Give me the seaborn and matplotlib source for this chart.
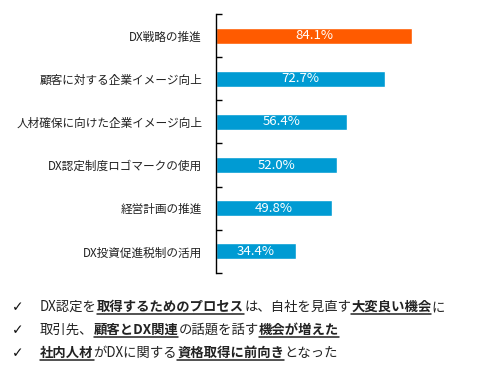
import matplotlib
matplotlib.use("Agg")
import matplotlib.pyplot as plt
import seaborn as sns
import pandas as pd
from matplotlib.lines import Line2D

sns.set_style("white")
plt.rcParams['font.family'] = ['Noto Sans CJK JP', 'DejaVu Sans']

# === データ ===
items = ["DX戦略の推進", "顧客に対する企業イメージ向上", "人材確保に向けた企業イメージ向上",
         "DX認定制度ロゴマークの使用", "経営計画の推進", "DX投資促進税制の活用"]
values = [84.1, 72.7, 56.4, 52.0, 49.8, 34.4]
bar_colors = ["#FF5B00", "#009BD3", "#009BD3", "#009BD3", "#009BD3", "#009BD3"]

# 下のコメント (テキスト, 太字+下線かどうか)
comments = [
    [("DX認定を", False), ("取得するためのプロセス", True), ("は、自社を見直す", False),
     ("大変良い機会", True), ("に", False)],
    [("取引先、", False), ("顧客とDX関連", True), ("の話題を話す", False), ("機会が増えた", True)],
    [("社内人材", True), ("がDXに関する", False), ("資格取得に前向き", True), ("となった", False)],
]

df = pd.DataFrame({"item": items, "value": values})

fig = plt.figure(figsize=(4.85, 3.71), dpi=100)
ax = fig.add_axes([216 / 485, 1 - 273 / 371, 233 / 485, 259 / 371])

sns.barplot(data=df, y="item", x="value", hue="item", palette=bar_colors,
            legend=False, width=0.37, ax=ax, orient="h", saturation=1)

ax.set_xlim(0, 100)
ax.set_ylim(5.5, -0.5)
ax.set_xlabel("")
ax.set_ylabel("")
ax.set_xticks([])
for s in ["top", "right", "bottom"]:
    ax.spines[s].set_visible(False)
ax.spines["left"].set_color("black")
ax.spines["left"].set_linewidth(1.0)

# 区切りの目盛り (内向き) とカテゴリラベル
ax.set_yticks([i - 0.5 for i in range(7)])
ax.set_yticklabels([])
ax.tick_params(axis="y", which="major", direction="in", length=4, width=1, color="black", left=True)
ax.set_yticks(range(6), minor=True)
ax.set_yticklabels(items, minor=True, fontsize=8.4, color="#222222")
ax.tick_params(axis="y", which="minor", length=0, pad=10)

# 値ラベル
for i, v in enumerate(values):
    ax.text(v / 2, i, f"{v:.1f}%", ha="center", va="center", color="white", fontsize=9.5)

# === 下のコメント ===
fig.canvas.draw()
renderer = fig.canvas.get_renderer()
baselines = [1 - 311 / 371, 1 - 334 / 371, 1 - 357 / 371]
x0 = 40 / 485
for line, yb in zip(comments, baselines):
    fig.text(12 / 485, yb, "✓", fontsize=10, va="baseline", ha="left",
             family=['DejaVu Sans'], color="#111111", fontweight="bold")
    x = x0
    for seg, strong in line:
        t = fig.text(x, yb, seg, fontsize=9.6, va="baseline", ha="left", color="#222222",
                     fontweight="bold" if strong else "normal")
        bb = t.get_window_extent(renderer=renderer)
        w = bb.width / fig.bbox.width
        if strong:
            uy = yb - 2.5 / 371
            fig.add_artist(Line2D([x, x + w], [uy, uy], transform=fig.transFigure,
                                  color="#222222", linewidth=1.1))
        x += w

fig.savefig("out.png", dpi=100)
